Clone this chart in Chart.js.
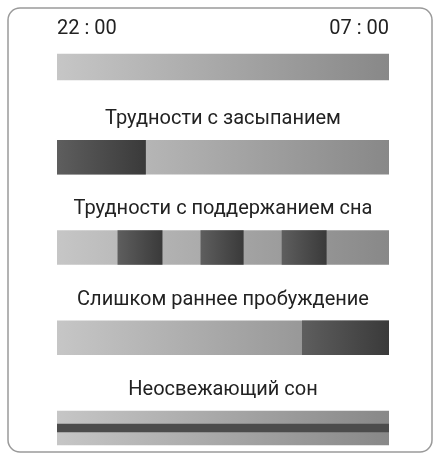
<!DOCTYPE html>
<html><head><meta charset="utf-8">
<script src="https://cdn.jsdelivr.net/npm/chart.js@4"></script>
<style>html,body{margin:0;padding:0;background:#fff}#w{position:relative;width:441px;height:461px}</style>
</head><body><div id="w"><canvas id="c" width="441" height="461"></canvas></div>
<script>
const timeLabels = ['22 : 00', '07 : 00'];
const hoursSpan = 9;
const rowTitles = ['', 'Трудности с засыпанием', 'Трудности с поддержанием сна', 'Слишком раннее пробуждение', 'Неосвежающий сон'];
const wakeSegments = [[], [[0, 2.4]], [[1.65, 2.85], [3.9, 5.05], [6.1, 7.3]], [[6.65, 9]], []];
const unrefreshedRow = 4;

const FONT = "'Roboto','DejaVu Sans Condensed',sans-serif";
function baseGrad(ctx) {
  const ch = ctx.chart, xs = ch.scales.x;
  if (!ch.chartArea) return '#aaa';
  const g = ch.ctx.createLinearGradient(xs.getPixelForValue(0), 0, xs.getPixelForValue(hoursSpan), 0);
  g.addColorStop(0, '#c6c6c6'); g.addColorStop(1, '#888888');
  return g;
}
function darkGrad(ctx) {
  const ch = ctx.chart, xs = ch.scales.x;
  const r = ctx.raw; if (!r || !ch.chartArea) return '#444';
  const g = ch.ctx.createLinearGradient(xs.getPixelForValue(r.x[0]), 0, xs.getPixelForValue(r.x[1]), 0);
  g.addColorStop(0, '#5e5e5e'); g.addColorStop(1, '#3a3a3a');
  return g;
}
const firstRow = [{x: [0, hoursSpan], y: 0}];
const otherRows = rowTitles.slice(1).map((t, i) => ({x: [0, hoursSpan], y: i + 1}));
const darkData = [];
wakeSegments.forEach((segs, i) => segs.forEach(s => darkData.push({x: s, y: i})));
const stripe = [{x: [0, hoursSpan], y: unrefreshedRow}];

const deco = {
  id: 'deco',
  beforeDraw(ch) {
    const c = ch.ctx;
    c.save(); c.strokeStyle = '#9a9a9a'; c.lineWidth = 1.5;
    c.beginPath(); c.roundRect(8, 8, 424, 444, 12); c.stroke(); c.restore();
  },
  afterDraw(ch) {
    const c = ch.ctx, xs = ch.scales.x, ys = ch.scales.y;
    c.save(); c.fillStyle = '#222'; c.font = '20px ' + FONT; c.textBaseline = 'middle';
    const x0 = xs.getPixelForValue(0), x1 = xs.getPixelForValue(hoursSpan);
    c.textAlign = 'left'; c.fillText(timeLabels[0], x0, ys.getPixelForValue(0) - 38);
    c.textAlign = 'right'; c.fillText(timeLabels[1], x1, ys.getPixelForValue(0) - 38);
    c.textAlign = 'center';
    rowTitles.forEach((t, i) => { if (t) c.fillText(t, (x0 + x1) / 2, ys.getPixelForValue(i) - 38); });
    c.restore();
  }
};

new Chart(document.getElementById('c'), {
  type: 'bar',
  data: {datasets: [
    {data: firstRow, barThickness: 26, backgroundColor: baseGrad, order: 3},
    {data: otherRows, barThickness: 34, backgroundColor: baseGrad, order: 3},
    {data: darkData, barThickness: 34, backgroundColor: darkGrad, order: 2},
    {data: stripe, barThickness: 8, backgroundColor: '#4c4c4c', order: 1}
  ]},
  options: {
    indexAxis: 'y', responsive: false, animation: false,
    layout: {padding: {left: 57, right: 52, top: 0, bottom: 0}},
    plugins: {legend: {display: false}, tooltip: {enabled: false}},
    datasets: {bar: {grouped: false, borderWidth: 0, borderSkipped: false}},
    scales: {
      x: {type: 'linear', min: 0, max: hoursSpan, display: false, offset: false},
      y: {type: 'linear', min: -0.742, max: 4.366, reverse: true, display: false, offset: false}
    }
  },
  plugins: [deco]
});
</script></body></html>
